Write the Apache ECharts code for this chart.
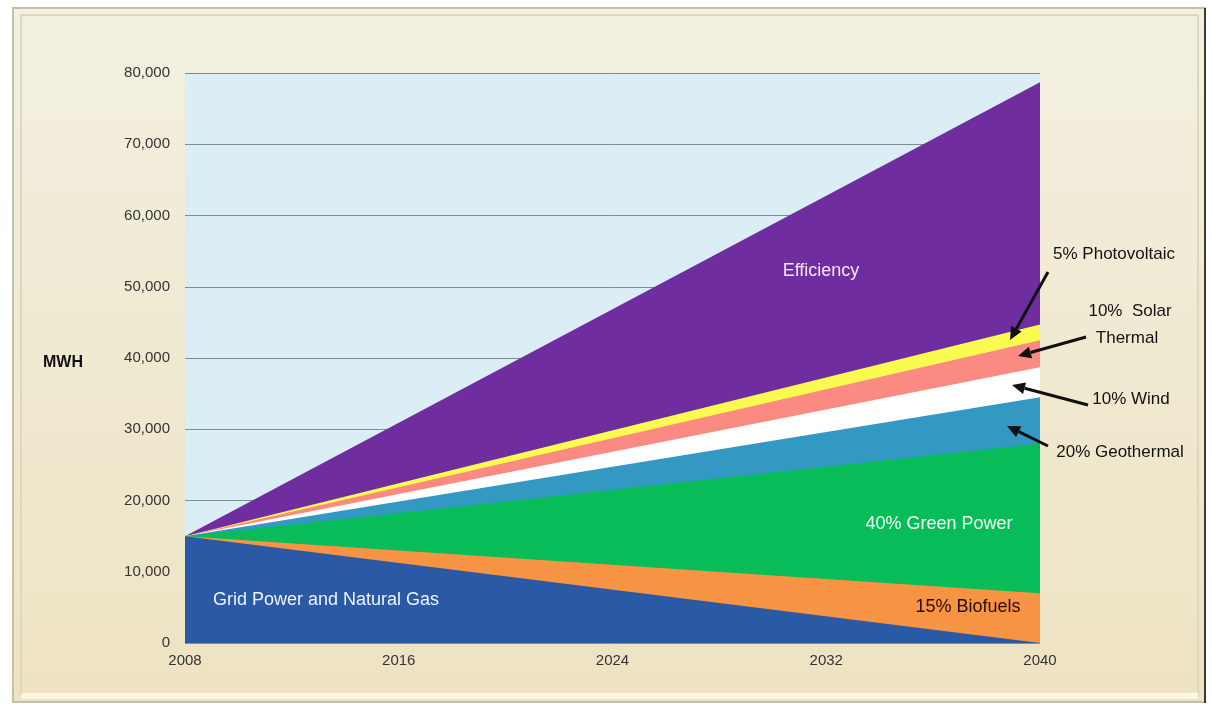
<!DOCTYPE html>
<html>
<head>
<meta charset="utf-8">
<script src="https://cdn.jsdelivr.net/npm/echarts@6/dist/echarts.min.js"></script>
<style>
  html, body { margin: 0; padding: 0; background: #fff; }
  #main { width: 1212px; height: 712px; }
</style>
</head>
<body>
<div id="main"></div>
<script>
// years on the x axis
const years = [2008, 2040];
// MWH per source, stacked bottom to top
const gridPower = [15000, 0];
const biofuels = [0, 7000];
const greenPower = [0, 21000];
const geothermal = [0, 6500];
const wind = [0, 4200];
const solarThermal = [0, 3800];
const photovoltaic = [0, 2200];
const efficiency = [0, 34000];

const seriesNames = ["Grid Power and Natural Gas", "15% Biofuels", "40% Green Power",
  "20% Geothermal", "10% Wind", "10% Solar Thermal", "5% Photovoltaic", "Efficiency"];
const seriesValues = [gridPower, biofuels, greenPower, geothermal, wind, solarThermal, photovoltaic, efficiency];
const colors = ["#2A5AA6", "#F79443", "#08BD59", "#3399C2", "#FFFFFF", "#FA8A82", "#FAFA50", "#6F2DA0"];

const FONT = "'Liberation Sans', Arial, sans-serif";

// running totals, so each band sits on the ones below it
// (ECharts stacks the x dimension when both axes are value axes)
const cumulative = [];
seriesValues.forEach(function (vals, i) {
  cumulative.push(vals.map(function (v, j) { return v + (i > 0 ? cumulative[i - 1][j] : 0); }));
});

function arrow(x1, y1, x2, y2) {
  // line from tail to tip plus a triangle head
  const len = 13, half = 6;
  const dx = x2 - x1, dy = y2 - y1;
  const d = Math.sqrt(dx * dx + dy * dy);
  const ux = dx / d, uy = dy / d;
  const bx = x2 - ux * len, by = y2 - uy * len;
  return [
    { type: "line", shape: { x1: x1, y1: y1, x2: bx, y2: by }, style: { stroke: "#111", lineWidth: 3 }, z: 100 },
    {
      type: "polygon",
      shape: { points: [[x2, y2], [bx - uy * half, by + ux * half], [bx + uy * half, by - ux * half]] },
      style: { fill: "#111" }, z: 100
    }
  ];
}

function label(text, x, y, color, size, weight) {
  return {
    type: "text", x: x, y: y, z: 100,
    style: {
      text: text, fill: color, font: (weight || "normal") + " " + size + "px " + FONT,
      align: "center", verticalAlign: "middle"
    }
  };
}

const graphics = [
  {
    type: "rect", shape: { x: 13, y: 8, width: 1192, height: 694 }, z: -10,
    style: {
      fill: new echarts.graphic.LinearGradient(0, 0, 0, 1, [
        { offset: 0, color: "#F3F0E1" }, { offset: 1, color: "#EDE3C2" }
      ]),
      stroke: "#C4C2A6", lineWidth: 2
    }
  },
  { type: "rect", shape: { x: 21, y: 15, width: 1177, height: 680 }, z: -9, style: { fill: null, stroke: "#DCD8BE", lineWidth: 2 } },
  { type: "rect", shape: { x: 21, y: 693, width: 1177, height: 6 }, z: -9, style: { fill: "#FBF7E3" } },
  { type: "line", shape: { x1: 1205, y1: 8, x2: 1205, y2: 703 }, z: -8, style: { stroke: "#3A3A34", lineWidth: 2 } },

  label("MWH", 63, 363, "#111", 16, "bold"),
  label("Efficiency", 821, 271, "#F6E6F6", 18),
  label("40% Green Power", 939, 524, "#F2FFF4", 18),
  label("15% Biofuels", 968, 607, "#2B0A0A", 18),
  label("Grid Power and Natural Gas", 326, 600, "#EEF4FF", 18),
  label("5% Photovoltaic", 1114, 254, "#111", 17),
  label("10%  Solar", 1130, 311, "#111", 17),
  label("Thermal", 1127, 338, "#111", 17),
  label("10% Wind", 1131, 399, "#111", 17),
  label("20% Geothermal", 1120, 452, "#111", 17)
].concat(
  arrow(1048, 272, 1010, 340),
  arrow(1086, 337, 1018, 356),
  arrow(1088, 405, 1012, 385),
  arrow(1048, 446, 1007, 426)
);

// top band first, so lower bands are painted over it
const series = [];
for (let i = seriesNames.length - 1; i >= 0; i--) {
  series.push({
    name: seriesNames[i],
    type: "line",
    symbol: "none",
    lineStyle: { width: 0 },
    areaStyle: { color: colors[i], opacity: 1 },
    data: years.map(function (y, j) { return [y, cumulative[i][j]]; })
  });
}

const option = {
  animation: false,
  backgroundColor: "#FFFFFF",
  textStyle: { fontFamily: FONT },
  grid: {
    left: 185, right: 172, top: 73, bottom: 69,
    show: true, backgroundColor: "#DBEEF6", borderWidth: 0
  },
  xAxis: {
    type: "value", min: 2008, max: 2040, interval: 8,
    axisLine: { show: false }, axisTick: { show: false }, splitLine: { show: false },
    axisLabel: {
      color: "#333", fontSize: 15, margin: 10, fontFamily: FONT,
      formatter: function (v) { return String(v); }
    }
  },
  yAxis: {
    type: "value", min: 0, max: 80000, interval: 10000,
    axisLine: { show: false }, axisTick: { show: false },
    splitLine: { lineStyle: { color: "#7C8C92", width: 1 } },
    axisLabel: {
      color: "#333", fontSize: 15, margin: 15, fontFamily: FONT,
      formatter: function (v) { return v.toLocaleString("en-US"); }
    }
  },
  graphic: graphics,
  series: series
};

const chart = echarts.init(document.getElementById("main"));
chart.setOption(option);
</script>
</body>
</html>
